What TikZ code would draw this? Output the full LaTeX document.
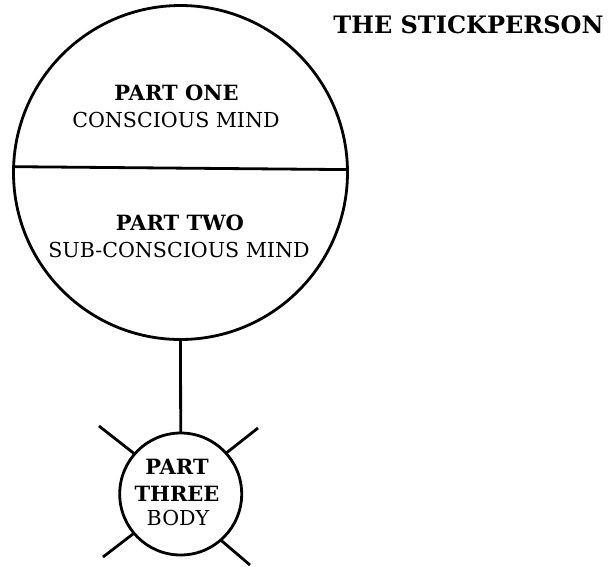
\documentclass[tikz,border=0pt]{standalone}
\usepackage{fontspec}
\setmainfont{DejaVu Serif}
\begin{document}
\begin{tikzpicture}[x=1pt,y=-1pt,
  stroke/.style={line width=2.8pt},
  ring/.style={circle,draw,stroke,outer sep=0pt,inner sep=0pt},
  regtext/.style={font=\fontsize{20.6}{24}\selectfont,inner sep=0pt},
  boldtext/.style={font=\fontsize{21}{24}\selectfont\bfseries,inner sep=0pt},
  titletext/.style={font=\fontsize{24}{28}\selectfont\bfseries,inner sep=0pt}]
\useasboundingbox (0,0) rectangle (608,566);
\node[ring,minimum size=334pt] (head) at (180.5,172.5) {};
\node[ring,minimum size=122pt] (body) at (180.7,494) {};
\draw[stroke] (head.178) -- (head.1);
\draw[stroke] (head.south) -- (body.north);
% limbs
\coordinate (ul) at (99,426);
\coordinate (ur) at (258,428);
\coordinate (ll) at (103,557);
\coordinate (lr) at (250,565);
\draw[stroke] (body.139) -- (ul);
\draw[stroke] (body.42) -- (ur);
\draw[stroke] (body.220) -- (ll);
\draw[stroke] (body.311) -- (lr);
% texts
\node[titletext] (title) at (468.5,25) {THE STICKPERSON};
\node[boldtext] (p1) at (176.5,93) {PART ONE};
\node[regtext] (p1b) at (176,120) {CONSCIOUS MIND};
\node[boldtext] (p2) at (180,223) {PART TWO};
\node[regtext] (p2b) at (179,250) {SUB-CONSCIOUS MIND};
\node[boldtext] (p3a) at (177,467) {PART};
\node[boldtext] (p3b) at (177,494) {THREE};
\node[regtext] (p3c) at (178,518) {BODY};
\end{tikzpicture}
\end{document}
